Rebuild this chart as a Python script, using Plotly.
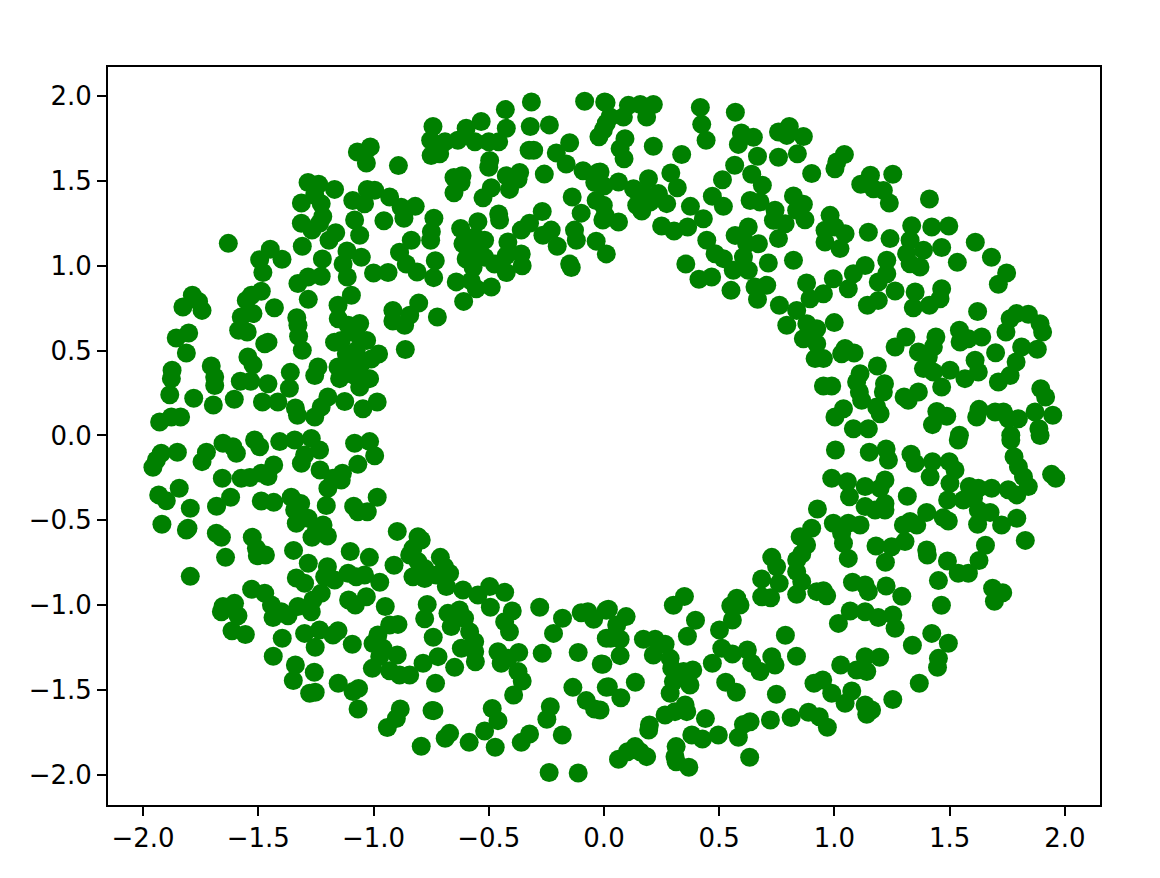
import plotly.graph_objects as go

tick_values = [-2.0, -1.5, -1.0, -0.5, 0.0, 0.5, 1.0, 1.5, 2.0]

upper_left = [
(-0.315,1.965),(-0.084,1.969),(0.003,1.965),(-0.428,1.92),(-0.022,1.76),(0.01,1.84),(-0.742,1.82),(-0.752,1.74),(-0.533,1.85),(-0.598,1.81),
(-0.424,1.81),(-0.32,1.82),(-0.237,1.83),(-0.69,1.73),(-0.634,1.74),(-0.56,1.73),(-0.50,1.73),(-0.457,1.73),(-0.75,1.65),(-0.713,1.66),
(-0.325,1.68),(-0.305,1.68),(-0.149,1.725),(-0.207,1.665),(-0.164,1.60),(-0.496,1.62),(-0.50,1.58),(-1.014,1.70),(-1.07,1.67),(-1.031,1.605),
(-0.892,1.59),(-0.651,1.52),(-0.616,1.53),(-0.62,1.49),(-0.651,1.43),(-0.259,1.54),(-0.366,1.55),(-0.424,1.53),(-0.373,1.51),(-0.41,1.45),
(-0.489,1.46),(-0.525,1.40),(-0.091,1.56),(-0.026,1.55),(-0.04,1.49),(0.0,1.47),(-1.284,1.49),(-1.238,1.48),(-1.169,1.45),(-1.255,1.415),
(-1.313,1.37),(-1.227,1.365),(-1.22,1.29),(-1.313,1.25),(-1.267,1.21),(-1.234,1.25),(-1.027,1.45),(-0.995,1.445),(-0.93,1.405),(-1.09,1.385),
(-1.039,1.365),(-1.082,1.27),(-0.955,1.265),(-0.868,1.28),(-0.819,1.35),(-0.88,1.345),(-0.738,1.28),(-1.06,1.18),(-1.164,1.195),(-1.193,1.15),
(-0.749,1.20),(-0.752,1.15),(-0.836,1.15),(-0.622,1.22),(-0.547,1.26),(-0.457,1.305),(-0.453,1.27),(-0.268,1.32),(-0.323,1.25),(-0.359,1.21),
(-0.229,1.21),(-0.265,1.18),(-0.203,1.115),(-0.138,1.405),(-0.034,1.385),(-0.099,1.31),(-0.005,1.27),(-0.128,1.21),(-0.12,1.15),(-0.034,1.145),
(0.01,1.07),(-0.149,1.01),(-0.142,0.99),(-0.417,1.14),(-0.518,1.15),(-0.56,1.17),(-0.612,1.13),(-0.561,1.09),(-0.598,1.04),(-0.518,1.05),
(-0.475,1.01),(-0.359,1.07),(-0.424,1.06),(-0.355,1.0),(-0.424,0.96),(-0.568,0.99),(-0.576,0.91),(-0.641,0.905),(-0.554,0.865),(-0.489,0.875),
(-0.609,0.79),(-1.309,1.115),(-1.448,1.097),(-1.494,1.036),(-1.397,1.038),(-1.48,0.96),(-1.222,1.04),(-1.115,1.087),(-1.053,1.05),(-1.132,1.01),
(-1.114,0.934),(-1.227,0.938),(-1.284,0.934),(-1.328,0.895),(-0.887,1.08),(-0.858,1.01),(-0.732,1.03),(-1.0,0.957),(-0.937,0.96),(-0.811,0.963),
(-0.739,0.93),(-1.63,1.132),(-1.786,0.826),(-1.827,0.757),(-1.759,0.79),(-1.744,0.737),(-1.487,0.85),(-1.53,0.826),(-1.552,0.796),(-1.523,0.718),
(-1.574,0.698),(-1.43,0.753),(-1.585,0.62),(-1.548,0.61),(-1.283,0.802),(-1.096,0.826),(-1.154,0.767),(-1.153,0.688),(-1.333,0.694),(-1.328,0.65),
(-1.325,0.585),(-1.309,0.502),(-1.06,0.66),(-1.11,0.65),(-0.916,0.737),(-0.804,0.78),(-0.916,0.675),(-0.865,0.65),(-0.843,0.708),(-0.723,0.698),
(-0.862,0.507),(-1.802,0.604),(-1.856,0.574),(-1.812,0.486),(-1.458,0.55),(-1.472,0.54),(-1.545,0.462),(-1.523,0.417),(-1.704,0.409),(-1.689,0.345),
(-1.689,0.295),(-1.874,0.384),(-1.877,0.335),(-1.884,0.24),(-1.78,0.219),(-1.695,0.18),(-1.604,0.213),(-1.578,0.32),(-1.533,0.32),(-1.458,0.305),
(-1.361,0.372),(-1.365,0.278),(-1.482,0.197),(-1.415,0.197),(-1.339,0.162),(-1.33,0.119),(-1.255,0.109),(-1.227,0.168),(-1.198,0.227),(-1.125,0.2),
(-1.046,0.158),(-0.984,0.197),(-1.928,0.079),(-1.877,0.109),(-1.837,0.109),(-1.14,0.56),(-1.03,0.56),(-1.075,0.50),(-0.978,0.48),(-1.01,0.45),
(-1.169,0.55),(-1.241,0.403),(-1.255,0.354),(-1.154,0.403),(-1.104,0.403),(-1.053,0.423),(-1.147,0.335),(-1.082,0.354),(-1.017,0.335),(-1.06,0.286),
(-1.118,0.482),(-1.075,0.60),
]

lower_left = [
(-1.653,-0.046),(-1.61,-0.066),(-1.595,-0.105),(-1.516,-0.027),(-1.494,-0.066),(-1.407,-0.036),(-1.342,-0.027),(-1.27,-0.017),(-1.234,-0.085),(-1.299,-0.115),
(-1.313,-0.164),(-1.082,-0.046),(-1.017,-0.036),(-0.995,-0.119),(-1.068,-0.17),(-1.921,-0.105),(-1.942,-0.144),(-1.957,-0.187),(-1.851,-0.099),(-1.725,-0.099),
(-1.744,-0.154),(-1.656,-0.252),(-1.574,-0.252),(-1.537,-0.248),(-1.487,-0.223),(-1.458,-0.242),(-1.433,-0.174),(-1.232,-0.203),(-1.135,-0.223),(-1.176,-0.252),
(-1.14,-0.262),(-1.198,-0.311),(-1.843,-0.311),(-1.932,-0.35),(-1.899,-0.384),(-1.62,-0.364),(-1.681,-0.417),(-1.795,-0.429),(-1.918,-0.523),(-1.805,-0.547),
(-1.812,-0.557),(-1.487,-0.386),(-1.433,-0.394),(-1.357,-0.364),(-1.316,-0.4),(-1.205,-0.413),(-0.984,-0.364),(-1.086,-0.417),(-1.068,-0.449),(-1.027,-0.449),
(-1.342,-0.439),(-1.335,-0.517),(-1.284,-0.488),(-1.219,-0.527),(-1.248,-0.557),(-1.267,-0.6),(-1.2,-0.592),(-0.897,-0.565),(-0.807,-0.596),(-0.793,-0.616),
(-1.682,-0.576),(-1.66,-0.6),(-1.526,-0.6),(-1.508,-0.665),(-1.504,-0.708),(-1.469,-0.704),(-1.642,-0.718),(-1.347,-0.677),(-1.101,-0.684),(-1.018,-0.718),
(-1.283,-0.753),(-1.2,-0.773),(-0.829,-0.665),(-0.843,-0.704),(-0.911,-0.765),(-0.71,-0.718),(-0.692,-0.773),(-0.807,-0.743),(-0.778,-0.783),(-1.795,-0.83),
(-1.335,-0.84),(-1.299,-0.871),(-1.212,-0.832),(-1.11,-0.812),(-1.039,-0.822),(-1.169,-0.851),(-1.075,-0.832),(-0.973,-0.865),(-0.829,-0.832),(-0.778,-0.842),
(-0.728,-0.822),(-0.67,-0.812),(-0.684,-0.89),(-0.612,-0.91),(-0.547,-0.94),(-0.496,-0.89),(-0.431,-0.924),(-0.493,-1.012),(-1.529,-0.906),(-1.472,-0.93),
(-1.653,-1.008),(-1.603,-0.989),(-1.66,-1.038),(-1.588,-1.062),(-1.227,-0.93),(-1.263,-0.969),(-1.328,-1.008),(-1.27,-1.038),(-1.443,-0.999),(-1.4,-1.038),
(-1.436,-1.073),(-1.371,-1.062),(-1.108,-0.969),(-1.031,-0.95),(-1.079,-0.999),(-0.949,-1.008),(-0.767,-0.995),(-0.778,-1.08),(-0.677,-1.048),(-0.627,-1.028),
(-0.605,-1.077),(-0.663,-1.126),(-0.398,-1.034),(-0.431,-1.097),(-0.41,-1.156),(-0.279,-1.012),(-0.18,-1.077),(-0.219,-1.166),(-0.099,-1.044),(-0.07,-1.038),
(-0.045,-1.083),(0.01,-1.03),(0.01,-1.195),(-1.614,-1.15),(-1.556,-1.172),(-1.396,-1.195),(-1.299,-1.166),(-1.234,-1.146),(-1.154,-1.15),(-1.176,-1.175),
(-1.253,-1.248),(-1.092,-1.23),(-0.93,-1.117),(-0.894,-1.113),(-0.981,-1.175),(-1.002,-1.225),(-0.959,-1.254),(-0.973,-1.303),(-0.897,-1.293),(-0.741,-1.189),
(-0.583,-1.156),(-0.561,-1.215),(-0.619,-1.254),(-0.561,-1.274),(-0.558,-1.333),(-0.648,-1.366),(-0.72,-1.303),(-0.785,-1.342),(-1.005,-1.372),(-0.93,-1.386),
(-0.887,-1.411),(-0.843,-1.411),(-0.731,-1.46),(-1.435,-1.301),(-1.339,-1.352),(-1.257,-1.395),(-1.348,-1.443),(-1.277,-1.519),(-1.253,-1.513),(-1.153,-1.46),
(-1.065,-1.49),(-1.089,-1.509),(-1.067,-1.611),(-0.46,-1.274),(-0.37,-1.278),(-0.446,-1.342),(-0.417,-1.313),(-0.373,-1.391),(-0.355,-1.446),(-0.392,-1.529),
(-0.268,-1.283),(-0.112,-1.278),(-0.012,-1.346),(-0.135,-1.484),(0.01,-1.484),(-0.077,-1.562),(-0.041,-1.611),(-0.233,-1.598),(-0.248,-1.672),(-0.485,-1.608),
(-0.46,-1.68),(-0.518,-1.741),(-0.585,-1.808),(-0.472,-1.837),(-0.323,-1.759),(-0.359,-1.808),(-0.181,-1.765),(-0.884,-1.611),(-0.901,-1.667),(-0.94,-1.72),
(-0.738,-1.621),(-0.746,-1.62),(-0.67,-1.755),(-0.689,-1.784),(-0.793,-1.831),(-0.238,-1.985),(-0.112,-1.989),
]

upper_right = [
(0.009,1.96),(0.106,1.945),(0.157,1.95),(0.214,1.95),(0.185,1.876),(0.084,1.876),(0.026,1.876),(-0.003,1.80),(0.091,1.749),(0.07,1.69),
(0.087,1.631),(0.214,1.704),(0.337,1.656),(0.418,1.933),(0.424,1.833),(0.443,1.739),(0.57,1.904),(0.596,1.782),(0.648,1.757),(0.583,1.715),
(0.666,1.645),(0.567,1.592),(0.757,1.788),(0.804,1.821),(0.793,1.768),(0.865,1.762),(0.757,1.639),(0.839,1.66),(0.901,1.543),(1.043,1.656),
(1.01,1.611),(1.002,1.572),(1.156,1.533),(1.114,1.48),(1.169,1.454),(1.212,1.444),(1.253,1.539),(1.238,1.37),(1.412,1.393),(-0.017,1.552),
(0.063,1.493),(0.128,1.454),(0.193,1.513),(0.29,1.546),(0.318,1.46),(0.171,1.425),(0.236,1.425),(0.272,1.366),(0.142,1.356),(0.164,1.323),
(0.2,1.376),(-0.003,1.356),(0.005,1.297),(0.063,1.258),(0.25,1.234),(0.304,1.205),(0.363,1.228),(0.375,1.35),(0.431,1.277),(0.47,1.409),
(0.514,1.507),(0.518,1.35),(0.641,1.539),(0.687,1.474),(0.634,1.385),(0.677,1.376),(0.822,1.411),(0.865,1.362),(0.836,1.327),(0.742,1.327),
(0.872,1.271),(0.786,1.248),(0.735,1.268),(0.626,1.228),(0.981,1.297),(0.959,1.209),(1.046,1.189),(0.959,1.14),(1.024,1.101),(1.002,1.228),
(1.147,1.197),(1.241,1.16),(1.335,1.236),(1.422,1.228),(1.496,1.234),(1.465,1.108),(1.611,1.138),(1.681,1.05),(1.533,1.02),(1.747,0.957),
(1.711,0.891),(1.328,1.15),(1.386,1.091),(1.313,1.071),(1.328,1.012),(1.371,0.993),(1.227,1.032),(1.227,0.953),(1.133,1.002),(1.082,0.953),
(0.995,0.924),(0.879,0.898),(0.952,0.835),(0.894,0.806),(1.06,0.865),(1.19,0.904),(1.263,0.851),(1.19,0.796),(1.143,0.767),(1.35,0.845),
(1.342,0.753),(1.412,0.767),(1.465,0.865),(1.458,0.806),(0.412,0.92),(0.467,0.934),(0.551,0.855),(0.355,1.01),(0.446,1.15),(0.482,1.071),
(0.518,1.042),(0.569,1.179),(0.619,1.13),(0.67,1.13),(0.605,1.052),(0.561,0.973),(0.626,0.973),(0.713,1.016),(0.757,1.16),(0.822,1.032),
(0.706,0.885),(0.655,0.875),(0.666,0.802),(0.761,0.767),(0.836,0.737),(0.793,0.649),(0.88,0.659),(0.923,0.629),(0.999,0.665),(0.865,0.57),
(0.923,0.541),(0.916,0.453),(0.952,0.453),(1.031,0.482),(1.046,0.512),(1.085,0.486),(0.952,0.292),(0.988,0.292),(1.186,0.409),(1.111,0.364),
(1.096,0.315),(1.217,0.305),(1.108,0.256),(1.212,0.256),(1.118,0.207),(1.039,0.158),(1.002,0.109),(1.198,0.128),(1.183,0.168),(1.082,0.04),
(1.147,0.04),(1.31,0.58),(1.263,0.521),(1.364,0.492),(1.44,0.58),(1.429,0.521),(1.407,0.462),(1.386,0.394),(1.429,0.374),(1.501,0.384),
(1.465,0.286),(1.566,0.335),(1.624,0.374),(1.61,0.443),(1.542,0.62),(1.545,0.551),(1.639,0.58),(1.581,0.57),(1.621,0.731),(1.699,0.488),
(1.744,0.61),(1.762,0.688),(1.79,0.718),(1.841,0.714),(1.892,0.659),(1.903,0.61),(1.812,0.521),(1.88,0.508),(1.788,0.433),(1.762,0.354),
(1.711,0.315),(1.895,0.276),(1.916,0.227),(1.364,0.256),(1.302,0.227),(1.32,0.207),(1.444,0.142),(1.487,0.113),(1.425,0.064),(1.627,0.154),
(1.617,0.109),(1.697,0.138),(1.733,0.138),(1.754,0.099),(1.798,0.099),(1.87,0.138),(1.947,0.119),(1.887,0.04),(1.542,0.001),(1.765,0.001),
]

lower_right = [
(1.004,-0.085),(1.151,-0.099),(1.224,-0.08),(1.234,-0.144),(1.332,-0.111),(1.35,-0.164),(1.425,-0.154),(1.498,-0.154),(1.523,-0.203),(1.415,-0.243),
(1.537,-0.027),(1.501,-0.282),(1.765,-0.027),(1.892,0.0),(1.779,-0.125),(1.798,-0.184),(1.82,-0.243),(1.841,-0.301),(1.942,-0.229),(1.96,-0.252),
(1.791,-0.35),(1.754,-0.32),(1.682,-0.311),(1.624,-0.311),(1.585,-0.301),(1.603,-0.37),(1.559,-0.38),(1.491,-0.38),(1.675,-0.453),(1.624,-0.439),
(1.621,-0.523),(1.725,-0.527),(1.791,-0.488),(1.828,-0.618),(1.316,-0.358),(0.988,-0.252),(1.056,-0.272),(1.133,-0.301),(1.219,-0.262),(1.198,-0.311),
(1.065,-0.361),(1.133,-0.419),(1.176,-0.439),(1.219,-0.4),(1.219,-0.439),(0.926,-0.433),(0.995,-0.517),(1.06,-0.517),(1.111,-0.527),(1.031,-0.576),
(1.039,-0.635),(1.06,-0.724),(0.901,-0.547),(0.851,-0.596),(0.879,-0.645),(1.299,-0.527),(1.328,-0.507),(1.4,-0.453),(1.357,-0.527),(1.472,-0.484),
(1.494,-0.504),(1.306,-0.625),(1.248,-0.655),(1.18,-0.651),(1.221,-0.747),(1.4,-0.675),(1.403,-0.704),(1.655,-0.647),(1.627,-0.737),(1.49,-0.739),
(1.581,-0.812),(1.537,-0.812),(1.451,-0.855),(0.728,-0.718),(0.749,-0.773),(0.858,-0.698),(0.836,-0.733),(0.836,-0.802),(0.858,-0.861),(0.76,-0.871),
(0.684,-0.845),(0.684,-0.95),(0.723,-0.956),(0.836,-0.936),(0.923,-0.92),(0.952,-0.914),(0.966,-0.944),(1.078,-0.865),(1.133,-0.881),(1.147,-0.92),
(1.224,-0.887),(1.292,-0.947),(1.686,-0.9),(1.73,-0.926),(1.694,-0.977),(1.464,-1.0),(1.068,-1.034),(1.133,-1.038),(1.19,-1.073),(1.253,-1.058),
(1.263,-1.136),(1.017,-1.107),(1.422,-1.166),(1.338,-1.236),(1.494,-1.224),(1.451,-1.313),(1.447,-1.366),(1.368,-1.46),(0.019,-1.024),(0.096,-1.067),
(0.055,-1.116),(0.029,-1.195),(0.07,-1.2),(0.07,-1.297),(-0.005,-1.348),(0.019,-1.48),(0.073,-1.545),(0.136,-1.454),(-0.017,-1.617),(0.349,-0.948),
(0.301,-1.0),(0.397,-1.089),(0.362,-1.183),(0.171,-1.2),(0.222,-1.2),(0.265,-1.23),(0.214,-1.293),(0.287,-1.313),(0.294,-1.372),(0.345,-1.391),
(0.385,-1.382),(0.301,-1.45),(0.373,-1.47),(0.287,-1.519),(0.352,-1.588),(0.359,-1.627),(0.308,-1.627),(0.265,-1.647),(0.197,-1.706),(0.194,-1.735),
(0.44,-1.668),(0.576,-0.959),(0.55,-1.003),(0.59,-0.999),(0.557,-1.087),(0.501,-1.146),(0.511,-1.254),(0.557,-1.287),(0.622,-1.264),(0.47,-1.342),
(0.641,-1.342),(0.677,-1.391),(0.728,-1.303),(0.742,-1.352),(0.787,-1.177),(0.835,-1.301),(0.528,-1.454),(0.574,-1.513),(0.748,-1.525),(0.722,-1.676),
(0.812,-1.661),(0.887,-1.631),(0.934,-1.657),(0.969,-1.719),(0.634,-1.686),(0.605,-1.702),(0.583,-1.778),(0.632,-1.896),(0.381,-1.765),(0.427,-1.788),
(0.496,-1.765),(0.313,-1.833),(0.308,-1.892),(0.313,-1.922),(0.368,-1.955),(0.135,-1.833),(0.102,-1.863),(0.063,-1.908),(0.185,-1.892),(0.157,-1.863),
(0.911,-1.46),(0.949,-1.44),(0.988,-1.519),(1.027,-1.352),(1.133,-1.303),(1.196,-1.307),(1.096,-1.382),(1.14,-1.391),(1.075,-1.505),(1.046,-1.578),
(1.133,-1.588),(1.161,-1.617),(1.14,-1.643),(1.253,-1.555),
]

points = upper_left + upper_right + lower_left + lower_right
x_values = [p[0] for p in points]
y_values = [p[1] for p in points]

fig = go.Figure(go.Scatter(
    x=x_values, y=y_values, mode="markers",
    marker=dict(color="#008000", size=19, line=dict(width=0)),
))

axis_style = dict(
    showgrid=False, zeroline=False, showline=True, mirror=True,
    linecolor="black", linewidth=2, ticks="outside", ticklen=9,
    tickwidth=2, tickcolor="black", tickvals=tick_values, tickformat=".1f",
    tickfont=dict(family="DejaVu Sans", size=26, color="black"),
)

fig.update_layout(
    width=1160, height=878,
    margin=dict(l=108, r=60, t=67, b=73),
    paper_bgcolor="white", plot_bgcolor="white", showlegend=False,
    xaxis=dict(range=[-2.152, 2.152], **axis_style),
    yaxis=dict(range=[-2.177, 2.171], **axis_style),
)

fig.write_html("out.html", post_script="document.body.style.margin='0';",
               config={"displayModeBar": False})
